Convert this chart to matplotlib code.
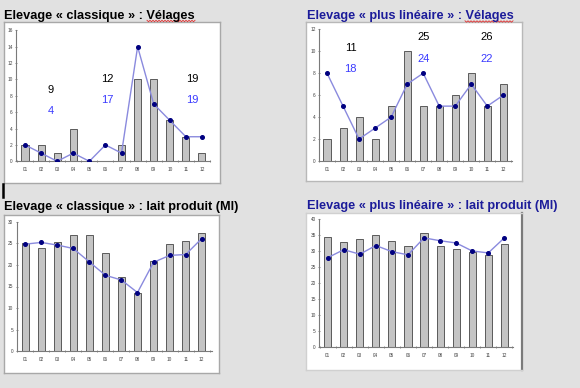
import matplotlib
matplotlib.use("Agg")
import matplotlib.pyplot as plt
import numpy as np
from matplotlib.lines import Line2D

W, H = 580, 388

months = ["01", "02", "03", "04", "05", "06", "07", "08", "09", "10", "11", "12"]

# Elevage classique : Vélages
cl_vel_bars = [2, 2, 1, 4, 0, 0, 2, 10, 10, 5, 3, 1]
cl_vel_line = [2, 1, 0, 1, 0, 2, 1, 14, 7, 5, 3, 3]
cl_vel_notes_black = ["9", "12", "19"]
cl_vel_notes_blue = ["4", "17", "19"]

# Elevage plus linéaire : Vélages
pl_vel_bars = [2, 3, 4, 2, 5, 10, 5, 5, 6, 8, 5, 7]
pl_vel_line = [8, 5, 2, 3, 4, 7, 8, 5, 5, 7, 5, 6]
pl_vel_notes_black = ["11", "25", "26"]
pl_vel_notes_blue = ["18", "24", "22"]

# Elevage classique : lait produit
cl_lait_bars = [25.0, 23.8, 25.3, 27.0, 26.9, 22.8, 17.2, 13.5, 20.9, 24.9, 25.5, 27.3]
cl_lait_line = [24.8, 25.2, 24.6, 23.8, 20.7, 17.6, 16.5, 13.6, 20.6, 22.2, 22.4, 26.1]

# Elevage plus linéaire : lait produit
pl_lait_bars = [34.6, 32.8, 34.0, 35.0, 33.2, 31.6, 35.8, 31.6, 30.7, 29.7, 28.9, 32.3]
pl_lait_line = [28.0, 30.5, 29.1, 31.8, 29.9, 28.9, 34.2, 33.3, 32.6, 30.1, 29.5, 34.2]

titles = [
    "Elevage « classique » : Vélages",
    "Elevage « plus linéaire » : Vélages",
    "Elevage « classique » : lait produit (Ml)",
    "Elevage « plus linéaire » : lait produit (Ml)",
]

BG = "#e1e1e1"
BAR_FACE = "#c4c4c4"
BAR_EDGE = "#5a5a5a"
LINE_C = "#8a8ade"
MARK_C = "#000080"
AX_C = "#7a7a7a"

fig = plt.figure(figsize=(W / 100, H / 100), dpi=100)
fig.patch.set_facecolor(BG)
plt.rcParams["font.family"] = ["Liberation Sans", "DejaVu Sans"]


def px_axes(l, t, r, b, z=1):
    return fig.add_axes([l / W, 1 - b / H, (r - l) / W, (b - t) / H], zorder=z)


def box(l, t, r, b, edge="#a8a8a8", right_edge=None):
    a = px_axes(l, t, r, b, z=0)
    a.set_xlim(0, 1)
    a.set_ylim(0, 1)
    a.set_facecolor("white")
    a.set_xticks([])
    a.set_yticks([])
    for s in a.spines.values():
        s.set_color(edge)
        s.set_linewidth(1.0)
    if right_edge:
        a.spines["right"].set_color(right_edge)
        a.spines["right"].set_linewidth(1.6)
    return a


def chart(l, t, r, b, xlim, ymax, ystep, bars, line):
    ax = px_axes(l, t, r, b, z=2)
    ax.patch.set_alpha(0)
    x = np.arange(len(months))
    ax.bar(x, bars, width=0.44, color=BAR_FACE, edgecolor=BAR_EDGE, linewidth=0.7, zorder=2)
    ax.plot(x, line, color=LINE_C, lw=1.0, zorder=3)
    ax.plot(x, line, ls="none", marker="o", ms=2.6, color=MARK_C, zorder=4)
    ax.set_xlim(*xlim)
    ax.set_ylim(0, ymax)
    ax.set_xticks(x)
    ax.set_xticklabels(months)
    ax.set_xticks(np.arange(len(months) + 1) - 0.5, minor=True)
    ax.set_yticks(np.arange(0, ymax + 0.01, ystep))
    ax.set_yticklabels([str(int(v)) for v in np.arange(0, ymax + 0.01, ystep)])
    ax.tick_params(axis="x", which="major", length=0, labelsize=3.4, labelcolor="#404040", pad=4)
    ax.tick_params(axis="x", which="minor", length=1.5, width=0.6, color=AX_C, direction="inout")
    ax.tick_params(axis="y", length=2.0, width=0.6, color=AX_C, direction="inout",
                   labelsize=3.4, labelcolor="#404040", pad=1.5)
    for s in ["top", "right"]:
        ax.spines[s].set_visible(False)
    for s in ["left", "bottom"]:
        ax.spines[s].set_color(AX_C)
        ax.spines[s].set_linewidth(0.8)
    return ax


# Boxes
box(4, 22, 220, 183)
box(306, 22, 522, 181, edge="#b8b8b8")
box(4, 215, 219, 373)
box(306, 213, 522, 370, edge="#d0d0d0", right_edge="#7a7a7a")

# Charts
ax1 = chart(16, 30.3, 210, 161.3, (-0.56, 11.5), 16, 2, cl_vel_bars, cl_vel_line)
ax2 = chart(319, 29.3, 512, 161, (-0.48, 11.54), 12, 2, pl_vel_bars, pl_vel_line)
ax3 = chart(16.7, 221.7, 211.7, 351.3, (-0.52, 11.62), 30, 5, cl_lait_bars, cl_lait_line)
ax4 = chart(319.3, 219.3, 512.7, 347.3, (-0.52, 11.52), 40, 5, pl_lait_bars, pl_lait_line)

# Annotations (number pairs)
NOTE_BLUE = "#3a3aff"
for xp, nb, nl, yb, yl in zip([1.6, 5.1, 10.4], cl_vel_notes_black, cl_vel_notes_blue,
                              [8.7, 10.0, 10.0], [6.2, 7.5, 7.5]):
    ax1.text(xp, yb, nb, ha="center", va="center", fontsize=8, color="black", zorder=5)
    ax1.text(xp, yl, nl, ha="center", va="center", fontsize=8, color=NOTE_BLUE, zorder=5)
for xp, nb, nl, yb, yl in zip([1.47, 6.04, 9.96], pl_vel_notes_black, pl_vel_notes_blue,
                              [10.3, 11.3, 11.3], [8.4, 9.3, 9.3]):
    ax2.text(xp, yb, nb, ha="center", va="center", fontsize=8, color="black", zorder=5)
    ax2.text(xp, yl, nl, ha="center", va="center", fontsize=8, color=NOTE_BLUE, zorder=5)

# Titles
TITLE_BLUE = "#1c1c9a"
fig.text(4 / W, 1 - 19 / H, titles[0], fontsize=9.2, fontweight="bold", color="black", va="baseline")
fig.text(307 / W, 1 - 19 / H, titles[1], fontsize=9.2, fontweight="bold", color=TITLE_BLUE, va="baseline")
fig.text(4 / W, 1 - 210.5 / H, titles[2], fontsize=9.2, fontweight="bold", color="black", va="baseline")
fig.text(307 / W, 1 - 209 / H, titles[3], fontsize=9.2, fontweight="bold", color=TITLE_BLUE, va="baseline")


# Spell-check wavy underlines
def wavy(x0, x1, y):
    xs = np.arange(x0, x1 + 0.1, 1.5)
    ys = y + np.where(np.arange(len(xs)) % 2 == 0, -0.7, 0.7)
    fig.add_artist(Line2D(xs / W, 1 - ys / H, color="#e03030", lw=0.6))


wavy(147, 195, 21)
wavy(465, 514, 21.5)

# Text cursor
fig.add_artist(Line2D([3 / W, 3 / W], [1 - 184 / H, 1 - 197 / H], color="black", lw=1.8))

fig.savefig("out.png", dpi=100, facecolor=BG)
